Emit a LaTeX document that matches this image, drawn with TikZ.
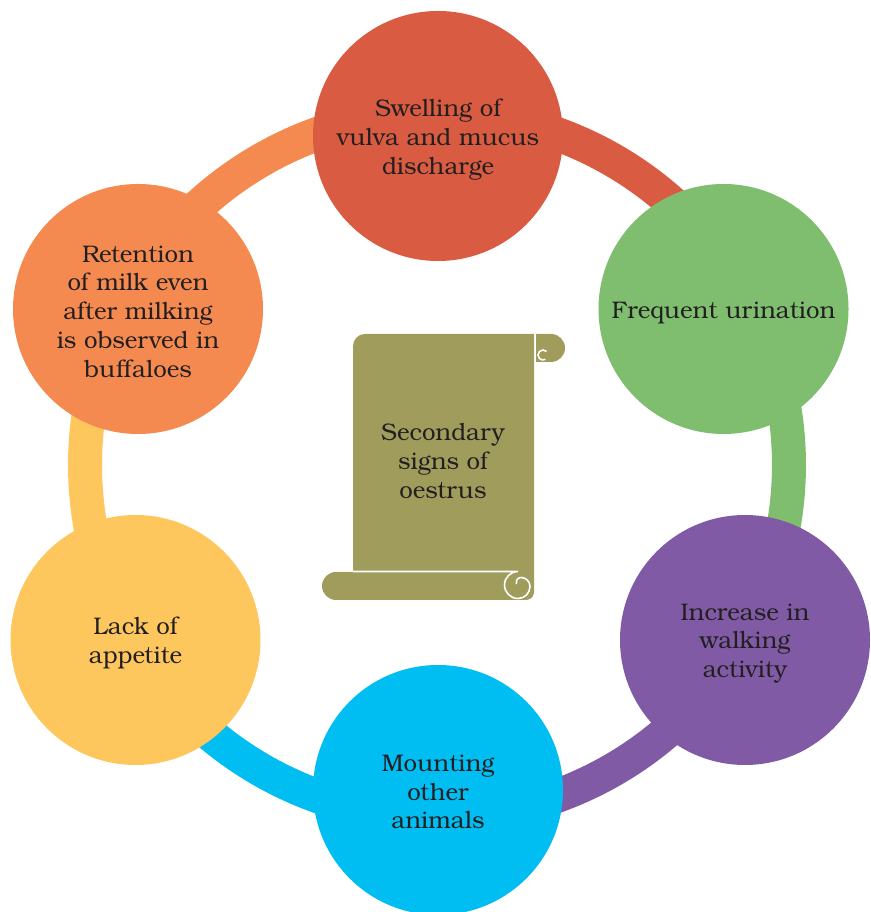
\documentclass[tikz,border=0pt]{standalone}
\usepackage{fontspec}
\setmainfont{TeX Gyre Bonum}
\definecolor{cred}{HTML}{D95B41}
\definecolor{cgreen}{HTML}{7FBD6F}
\definecolor{cpurple}{HTML}{805AA5}
\definecolor{cblue}{HTML}{00BDF2}
\definecolor{cyellow}{HTML}{FDC75D}
\definecolor{corange}{HTML}{F58A51}
\definecolor{colive}{HTML}{A09C5C}
\definecolor{ctext}{HTML}{231F20}
\begin{document}
\begin{tikzpicture}[x=1pt,y=1pt,
  blob/.style={circle, minimum size=250pt, inner sep=0pt},
  lbl/.style={align=center, text=ctext, inner sep=0pt, font=\fontsize{24}{28.8}\selectfont},
  ringseg/.style={line width=34pt},
  curl/.style={white, line width=1.6pt}]
\useasboundingbox (0,0) rectangle (870,912);
\clip (0,0) rectangle (870,912);
% ring
\coordinate (ctr) at (437,447);
\coordinate (pO) at ([shift={(152.4:352)}]ctr);
\coordinate (pR) at ([shift={(90:352)}]ctr);
\coordinate (pG) at ([shift={(28.6:352)}]ctr);
\coordinate (pP) at ([shift={(-29.6:352)}]ctr);
\coordinate (pB) at ([shift={(-90:352)}]ctr);
\coordinate (pY) at ([shift={(210.1:352)}]ctr);
\draw[ringseg, corange] (pO) arc[start angle=152.4, end angle=90, radius=352];
\draw[ringseg, cred] (pR) arc[start angle=90, end angle=28.6, radius=352];
\draw[ringseg, cgreen] (pG) arc[start angle=28.6, end angle=-29.6, radius=352];
\draw[ringseg, cpurple] (pP) arc[start angle=-29.6, end angle=-90, radius=352];
\draw[ringseg, cblue] (pB) arc[start angle=-90, end angle=-149.9, radius=352];
\draw[ringseg, cyellow] (pY) arc[start angle=210.1, end angle=152.4, radius=352];
% circles
\node[blob, fill=cred] (nR) at (438,776) {};
\node[blob, fill=cgreen] (nG) at (723.5,603) {};
\node[blob, fill=cpurple] (nP) at (745,272) {};
\node[blob, fill=cblue] (nB) at (438,122) {};
\node[blob, fill=cyellow] (nY) at (135.5,272) {};
\node[blob, fill=corange] (nO) at (138,603) {};
\node[lbl] (tR) at ([yshift=-3.5pt]nR.center) {Swelling of\\vulva and mucus\\discharge};
\node[lbl] (tG) at ([yshift=-3.5pt]nG.center) {Frequent urination};
\node[lbl] (tP) at ([yshift=-3.5pt]nP.center) {Increase in\\walking\\activity};
\node[lbl] (tB) at ([yshift=-2pt]nB.center) {Mounting\\other\\animals};
\node[lbl] (tY) at ([yshift=-3pt]nY.center) {Lack of\\appetite};
\node[lbl] (tO) at ([yshift=-2.5pt]nO.center) {Retention\\of milk even\\after milking\\is observed in\\buffaloes};
% scroll
\fill[colive] (353,320) -- (353,566) arc[start angle=180, end angle=90, radius=12]
  -- (534,578) -- (534,320) arc[start angle=0, end angle=-90, radius=8] -- (353,312) -- cycle;
\fill[colive] (353,312) -- (336,312) arc[start angle=270, end angle=90, radius=14] -- (353,340) -- cycle;
\fill[colive] (536,550) -- (551,550) arc[start angle=-90, end angle=90, radius=14] -- (536,578) -- cycle;
\draw[curl] (353,340.5) -- (518,340.5) arc[start angle=90, end angle=270, radius=13.5]
  arc[start angle=270, end angle=360, radius=12] arc[start angle=0, end angle=90, radius=9]
  arc[start angle=90, end angle=200, radius=5];
\draw[curl] ([shift={(45:5)}]543,557) arc[start angle=45, end angle=300, radius=5];
\node[lbl] (nS) at (443,451) {Secondary\\signs of\\oestrus};
\end{tikzpicture}
\end{document}
